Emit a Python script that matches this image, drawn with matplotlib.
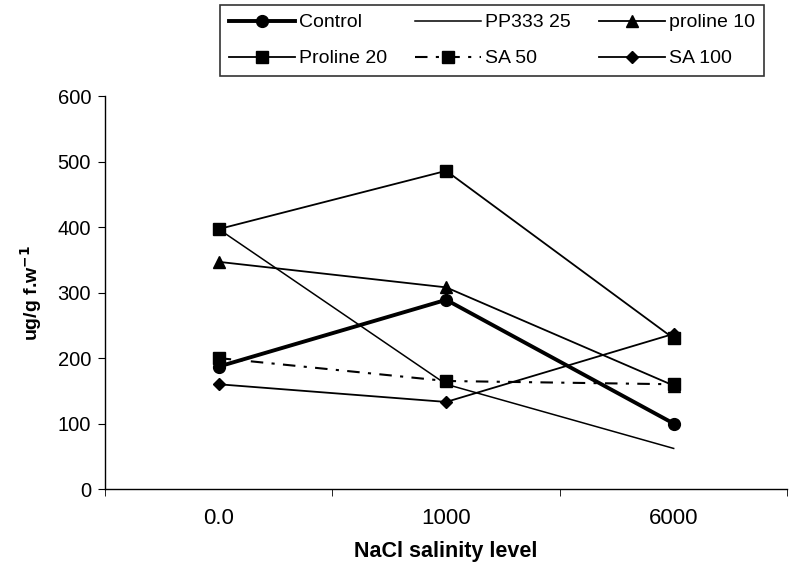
import matplotlib.pyplot as plt
from matplotlib.ticker import FixedLocator

plt.rcParams["font.family"] = ["Liberation Sans", "DejaVu Sans"]

# NaCl levels and measured values (ug/g f.w.)
levels = ["0.0", "1000", "6000"]
control = [187, 289, 100]
pp333_25 = [397, 160, 62]
proline_10 = [347, 308, 158]
proline_20 = [397, 486, 230]
sa_50 = [200, 165, 160]
sa_100 = [160, 133, 237]

x = list(range(len(levels)))

fig = plt.figure(figsize=(7.89, 5.76), dpi=100)
ax = fig.add_axes([0.133, 0.151, 0.865, 0.682])

h1, = ax.plot(x, control, color="black", lw=2.8, marker="o", ms=8.5, label="Control")
h2, = ax.plot(x, pp333_25, color="black", lw=1.1, label="PP333 25")
h3, = ax.plot(x, proline_10, color="black", lw=1.3, marker="^", ms=8.5, label="proline 10")
h4, = ax.plot(x, proline_20, color="black", lw=1.3, marker="s", ms=8, label="Proline 20")
h5, = ax.plot(x, sa_50, color="black", lw=1.5, ls=(0, (6, 4, 1.5, 4)), marker="s", ms=8,
              label="SA 50")
h6, = ax.plot(x, sa_100, color="black", lw=1.3, marker="D", ms=6.5, label="SA 100")

ax.set_xlim(-0.5, 2.5)
ax.set_ylim(0, 600)
ax.set_yticks(range(0, 601, 100))
ax.set_xticks(x)
ax.set_xticklabels(levels)
ax.xaxis.set_minor_locator(FixedLocator([-0.5, 0.5, 1.5, 2.5]))
ax.tick_params(axis="x", which="major", length=0, pad=14, labelsize=16)
ax.tick_params(axis="x", which="minor", length=5, direction="out")
ax.tick_params(axis="y", length=5, direction="out", labelsize=14.5, pad=5)

for side in ["top", "right"]:
    ax.spines[side].set_visible(False)
ax.spines["left"].set_linewidth(1.0)
ax.spines["bottom"].set_linewidth(1.0)

ax.set_xlabel("NaCl salinity level", fontsize=15.5, fontweight="bold", labelpad=8)
ax.set_ylabel("ug/g f.w$^{\\mathbf{-1}}$", fontsize=14, fontweight="bold", labelpad=10)

# Excel-style legend: rows read left to right, so feed handles column by column
leg = fig.legend(handles=[h1, h4, h2, h5, h3, h6], ncol=3, loc="upper left",
                 bbox_to_anchor=(220 / 789, 1 - 5 / 576), fontsize=14,
                 frameon=True, fancybox=False, edgecolor="black",
                 handlelength=3.4, handletextpad=0.2, columnspacing=1.45,
                 borderpad=0.45, labelspacing=0.95, borderaxespad=0)
leg.get_frame().set_linewidth(1.2)

fig.savefig("out.png", dpi=100)
